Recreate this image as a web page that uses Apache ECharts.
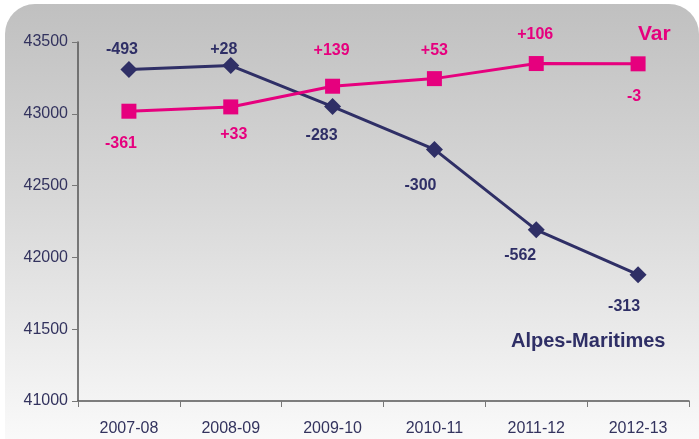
<!DOCTYPE html>
<html>
<head>
<meta charset="utf-8">
<script src="https://cdn.jsdelivr.net/npm/echarts@6/dist/echarts.min.js"></script>
<style>
    html, body { margin: 0; padding: 0; background: #fff; }
    .wrapBox {
        position: absolute; left: 5px; top: 4px; width: 694px; height: 440px;
        border-radius: 30px 30px 0 0;
        background: linear-gradient(to bottom, #c0c0c0 0%, #d8d8d8 45%, #fafafa 100%);
    }
    #chart { position: absolute; left: 0; top: 0; width: 699px; height: 439px; }
</style>
</head>
<body>
<div class="wrapBox"></div>
<div id="chart"></div>
<script>
// 年份
var categories = ['2007-08', '2008-09', '2009-10', '2010-11', '2011-12', '2012-13'];
// Alpes-Maritimes
var alpesValues = [43308, 43336, 43050, 42752, 42192, 41880];
var alpesLabels = ['-493', '+28', '-283', '-300', '-562', '-313'];
// Var
var varValues = [43018, 43048, 43192, 43245, 43350, 43348];
var varLabels = ['-361', '+33', '+139', '+53', '+106', '-3'];
var yTicks = [41000, 41500, 42000, 42500, 43000, 43500];

var navy = '#2f2f66';
var pink = '#e6007e';
var labelFont = '"Liberation Sans Narrow", "Liberation Sans", sans-serif';

// label offsets from the marker centre
var alpesOffsets = [[-7, -20], [-7, -16], [-11, 29], [-14, 36], [-16, 26], [-14, 32]];
var varOffsets = [[-8, 32], [3, 28], [-1, -36], [0, -28], [-1, -29], [-4, 33]];

function buildData(values, labels, offsets, color) {
    return values.map(function (v, i) {
        return {
            value: v,
            label: {
                show: true,
                formatter: labels[i],
                position: 'inside',
                offset: offsets[i],
                color: color,
                fontFamily: labelFont,
                fontWeight: 'bold',
                fontSize: 16
            }
        };
    });
}

var chart = echarts.init(document.getElementById('chart'));
var option = {
    backgroundColor: 'transparent',
    animation: false,
    grid: { left: 78, right: 10, top: 42, bottom: 38 },
    xAxis: {
        type: 'category',
        data: categories,
        boundaryGap: true,
        axisLine: { lineStyle: { color: '#555', width: 1.5 } },
        axisTick: { show: true, length: 6, lineStyle: { color: '#777' } },
        axisLabel: { color: '#33335e', fontSize: 16, fontFamily: 'Liberation Sans, Arial', margin: 20 }
    },
    yAxis: {
        type: 'value',
        min: yTicks[0],
        max: yTicks[yTicks.length - 1],
        interval: 500,
        splitLine: { show: false },
        axisLine: { show: true, lineStyle: { color: '#555', width: 1.5 } },
        axisTick: { show: true, length: 6, lineStyle: { color: '#777' } },
        axisLabel: {
            color: '#33335e', fontSize: 16, fontFamily: 'Liberation Sans, Arial', margin: 10,
            formatter: function (v) { return String(v); }
        }
    },
    series: [
        {
            name: 'Alpes-Maritimes',
            type: 'line',
            data: buildData(alpesValues, alpesLabels, alpesOffsets, navy),
            symbol: 'diamond',
            symbolSize: 17,
            itemStyle: { color: navy },
            lineStyle: { color: navy, width: 3 },
            z: 2
        },
        {
            name: 'Var',
            type: 'line',
            data: buildData(varValues, varLabels, varOffsets, pink),
            symbol: 'rect',
            symbolSize: 15,
            itemStyle: { color: pink },
            lineStyle: { color: pink, width: 3 },
            z: 3
        }
    ],
    graphic: [
        {
            type: 'text', left: 638, top: 24,
            style: { text: 'Var', fill: pink, font: 'bold 21px ' + labelFont }
        },
        {
            type: 'text', left: 511, top: 331,
            style: { text: 'Alpes-Maritimes', fill: navy, font: 'bold 20px ' + labelFont }
        }
    ]
};
chart.setOption(option);
</script>
</body>
</html>
